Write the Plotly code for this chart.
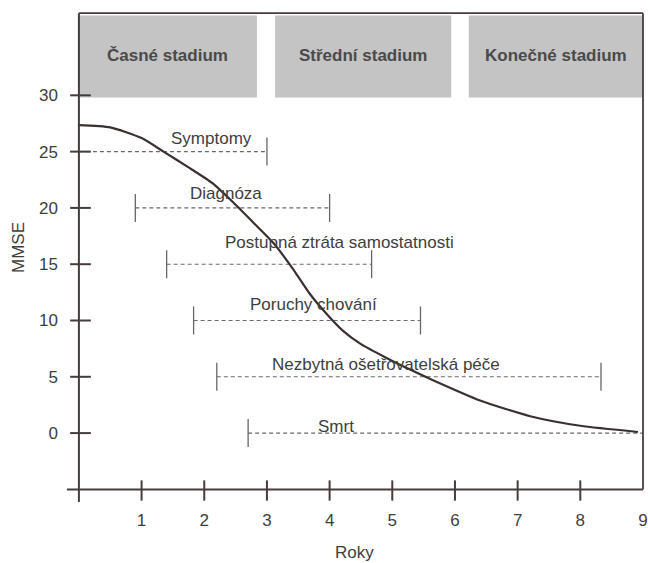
import plotly.graph_objects as go

# ---- data ----
curve_years = [0.0, 0.5, 1.0, 1.35, 1.75, 2.13, 2.46, 2.8, 3.1, 3.4, 3.68, 3.95, 4.21, 4.5, 4.9, 5.3, 5.65, 6.4, 7.2, 8.0, 8.92]
curve_mmse = [27.35, 27.15, 26.2, 25.0, 23.6, 22.2, 20.5, 18.6, 16.9, 14.7, 12.4, 10.6, 9.1, 7.9, 6.7, 5.6, 4.7, 2.9, 1.5, 0.65, 0.1]

interval_names = ["Symptomy", "Diagnóza", "Postupná ztráta samostatnosti", "Poruchy chování",
                  "Nezbytná ošetřovatelská péče", "Smrt"]
interval_start = [0.0, 0.9, 1.4, 1.83, 2.2, 2.7]
interval_end = [3.0, 4.0, 4.67, 5.45, 8.33, 9.0]
interval_level = [25, 20, 15, 10, 5, 0]
label_x = [2.11, 2.35, 4.15, 3.75, 4.9, 4.1]
label_y = [26.2, 21.3, 16.9, 11.4, 6.1, 0.55]

stage_names = ["Časné stadium", "Střední stadium", "Konečné stadium"]
stage_start = [0.0, 3.13, 6.22]
stage_end = [2.84, 5.94, 9.0]

x_ticks = [1, 2, 3, 4, 5, 6, 7, 8, 9]
y_ticks = [0, 5, 10, 15, 20, 25, 30]

X_MIN, X_MAX = 0.0, 9.0
Y_AXIS = -5.0
BAND_BOTTOM, BAND_TOP = 29.8, 37.1
FRAME_TOP = 37.3

AXIS_COLOR = "#463c3c"
TEXT_COLOR = "#3e3e3e"
FONT = "Liberation Sans, Arial, Helvetica, sans-serif"
FS = 17

fig = go.Figure()

# stage bands
for s, e, name in zip(stage_start, stage_end, stage_names):
    fig.add_shape(type="rect", x0=s, x1=e, y0=BAND_BOTTOM, y1=BAND_TOP,
                  fillcolor="#c4c4c4", line=dict(width=0), layer="below")
    fig.add_annotation(x=(s + e) / 2, y=33.5, text="<b>" + name + "</b>", showarrow=False,
                       font=dict(family=FONT, size=FS, color="#4a4a4a"))

# intervals
for name, s, e, lvl, lx, ly in zip(interval_names, interval_start, interval_end,
                                   interval_level, label_x, label_y):
    fig.add_trace(go.Scatter(x=[s, e], y=[lvl, lvl], mode="lines",
                             line=dict(color="#6a6a6a", width=1.1, dash="4px,3px"),
                             hoverinfo="skip", showlegend=False))
    ends = [v for v in (s, e) if X_MIN < v < X_MAX]
    fig.add_trace(go.Scatter(x=ends, y=[lvl] * len(ends), mode="markers",
                             marker=dict(symbol="line-ns", size=20,
                                         line=dict(width=1.3, color="#666666")),
                             hoverinfo="skip", showlegend=False))
    fig.add_annotation(x=lx, y=ly, text=name, showarrow=False,
                       font=dict(family=FONT, size=FS, color=TEXT_COLOR))

# MMSE curve
fig.add_trace(go.Scatter(x=curve_years, y=curve_mmse, mode="lines",
                         line=dict(color="#3b3030", width=2.2, shape="spline", smoothing=0.6),
                         showlegend=False))

# axes / frame
fig.add_shape(type="line", x0=X_MIN, x1=X_MIN, y0=-6.15, y1=FRAME_TOP,
              line=dict(color=AXIS_COLOR, width=2))
fig.add_shape(type="line", x0=-0.19, x1=X_MAX, y0=Y_AXIS, y1=Y_AXIS,
              line=dict(color=AXIS_COLOR, width=2))
fig.add_shape(type="line", x0=X_MIN, x1=X_MAX, y0=FRAME_TOP, y1=FRAME_TOP,
              line=dict(color=AXIS_COLOR, width=1.6))
fig.add_shape(type="line", x0=X_MAX, x1=X_MAX, y0=Y_AXIS, y1=FRAME_TOP,
              line=dict(color=AXIS_COLOR, width=1.8))
for v in y_ticks:
    fig.add_shape(type="line", x0=-0.14, x1=0.19, y0=v, y1=v,
                  line=dict(color=AXIS_COLOR, width=2))
for v in x_ticks[:-1]:
    fig.add_shape(type="line", x0=v, x1=v, y0=-4.2, y1=-6.0,
                  line=dict(color=AXIS_COLOR, width=2))

fig.update_xaxes(range=[-0.19, 9.064], showgrid=False, zeroline=False, showline=False,
                 tickvals=x_ticks, ticks="", ticklabelstandoff=6, automargin=False,
                 ticklabeloverflow="allow",
                 tickfont=dict(family=FONT, size=FS, color=TEXT_COLOR))
fig.update_yaxes(range=[-6.12, 37.4], showgrid=False, zeroline=False, showline=False,
                 tickvals=y_ticks, ticks="", ticklabelstandoff=8, automargin=False,
                 tickfont=dict(family=FONT, size=FS, color=TEXT_COLOR))

fig.add_annotation(xref="paper", yref="paper", x=-0.084, y=0.519, text="MMSE", textangle=-90,
                   xanchor="center", yanchor="middle",
                   showarrow=False, font=dict(family=FONT, size=FS, color=TEXT_COLOR))
fig.add_annotation(xref="paper", yref="paper", x=0.495, y=-0.104, text="Roky",
                   xanchor="center", yanchor="middle",
                   showarrow=False, font=dict(family=FONT, size=FS, color=TEXT_COLOR))

fig.update_layout(width=648, height=563, margin=dict(l=67, r=1, t=12, b=61, autoexpand=False),
                  plot_bgcolor="white", paper_bgcolor="white", showlegend=False)

# remove the default 8px page margin so the figure fills the 648x563 window exactly
fig.write_html("out.html", config={"displayModeBar": False},
               post_script="document.body.style.margin='0';document.body.style.overflow='hidden';")
